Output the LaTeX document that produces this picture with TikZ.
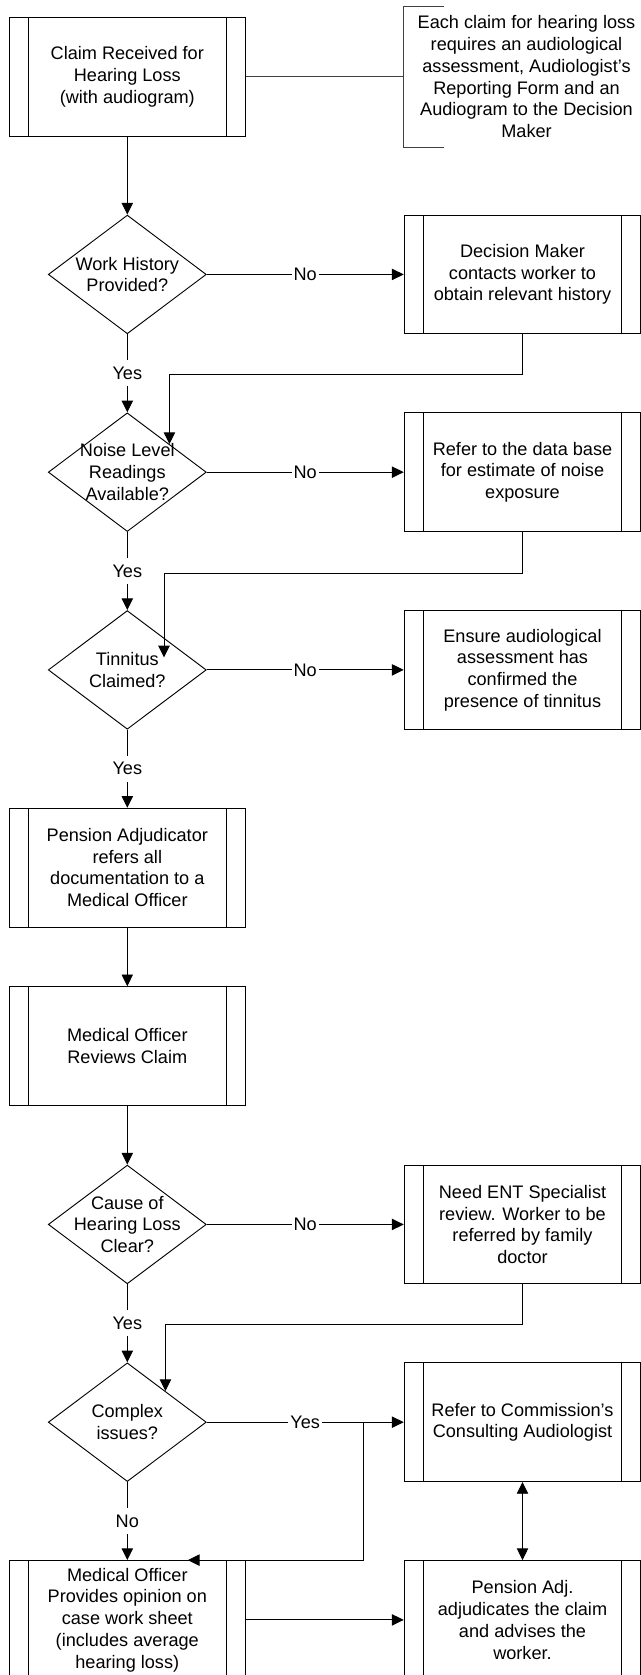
\documentclass[tikz,border=0pt]{standalone}
\usepackage{fontspec}
\setmainfont{Liberation Sans}
\usetikzlibrary{shapes.geometric,arrows.meta,positioning,calc}
\newcommand{\flowfont}{\fontsize{13.6pt}{16.3pt}\selectfont}

\begin{document}
\begin{tikzpicture}[x=0.75pt, y=-0.75pt, line width=0.7pt, node distance=148.3pt,
      procbox/.style={rectangle, draw=black, minimum width=177.5pt, minimum height=89pt, inner sep=2pt, align=center, font=\flowfont,
        path picture={\draw ([xshift=14.7pt]path picture bounding box.north west) -- ([xshift=14.7pt]path picture bounding box.south west)
          ([xshift=-14.7pt]path picture bounding box.north east) -- ([xshift=-14.7pt]path picture bounding box.south east);}},
      decision/.style={diamond, draw=black, aspect=1.33, minimum width=118.5pt, minimum height=89pt, inner xsep=-20pt, inner ysep=-12pt, align=center, font=\flowfont},
      lbl/.style={fill=white, inner xsep=1.5pt, inner ysep=5pt, font=\flowfont},
      pfeil/.style={-{Triangle[length=8.8pt,width=8.5pt]}},
      dpfeil/.style={{Triangle[length=8.8pt,width=8.5pt]}-{Triangle[length=8.8pt,width=8.5pt]}}]

\useasboundingbox (0,0) rectangle (640,1675);

\node[procbox] (claim) at (127.3,76.7) {Claim Received for\\Hearing Loss\\(with audiogram)};
\node[align=center, font=\flowfont, minimum width=183.75pt, minimum height=105pt, right of=claim, node distance=299.4pt] (note) {Each claim for hearing loss\\requires an audiological\\assessment, Audiologist’s\\Reporting Form and an\\Audiogram to the Decision\\Maker};
\node[decision, below of=claim] (d1) {Work History\\Provided?};
\node[decision, below of=d1] (d2) {Noise Level\\Readings\\Available?};
\node[decision, below of=d2] (d3) {Tinnitus\\Claimed?};
\node[procbox, below of=d3] (pa) {Pension Adjudicator\\refers all\\documentation to a\\Medical Officer};
\node[procbox, below of=pa, node distance=133.8pt] (mor) {Medical Officer\\Reviews Claim};
\node[decision, below of=mor, node distance=133.8pt] (d4) {Cause of\\Hearing Loss\\Clear?};
\node[decision, below of=d4] (d5) {Complex\\issues?};
\node[procbox, below of=d5] (mo) {Medical Officer\\Provides opinion on\\case work sheet\\(includes average\\hearing loss)};
\node[procbox, right of=d1, node distance=296.4pt] (dm) {Decision Maker\\contacts worker to\\obtain relevant history};
\node[procbox, right of=d2, node distance=296.4pt] (db) {Refer to the data base\\for estimate of noise\\exposure};
\node[procbox, right of=d3, node distance=296.4pt] (tin) {Ensure audiological\\assessment has\\confirmed the\\presence of tinnitus};
\node[procbox, right of=d4, node distance=296.4pt] (ent) {Need ENT Specialist\\review. Worker to be\\referred by family\\doctor};
\node[procbox, right of=d5, node distance=296.4pt] (cons) {Refer to Commission’s\\Consulting Audiologist};
\node[procbox, right of=mo, node distance=296.4pt] (adj) {Pension Adj.\\adjudicates the claim\\and advises the\\worker.};
\coordinate[right of=d5, node distance=177pt] (jn);
\coordinate (tip2) at ($(d2.north)!0.53!(d2.east)$);
\coordinate (tip3) at ($(d3.center)+(36.7,-12.5)$);
\coordinate (tip5) at ($(d5.north)!0.48!(d5.east)$);
\coordinate (mtip) at ($(mo.north)+(60.5,0)$);

\draw[black!75] (claim) -- (note);
\draw[black!75] ([xshift=30pt]note.north west) -- (note.north west) -- (note.south west) -- ([xshift=30pt]note.south west);
\draw[pfeil] (claim) -- (d1);
\draw[pfeil] (d1) -- node[lbl] {No} (dm);
\draw[pfeil] (d1) -- node[lbl] {Yes} (d2);
\draw[pfeil] (dm.south) -- ++(0,40.5) -| (tip2);
\draw[pfeil] (d2) -- node[lbl] {No} (db);
\draw[pfeil] (d2) -- node[lbl] {Yes} (d3);
\draw[pfeil] (db.south) -- ++(0,41) -| (tip3);
\draw[pfeil] (d3) -- node[lbl] {No} (tin);
\draw[pfeil] (d3) -- node[lbl] {Yes} (pa);
\draw[pfeil] (pa) -- (mor);
\draw[pfeil] (mor) -- (d4);
\draw[pfeil] (d4) -- node[lbl] {No} (ent);
\draw[pfeil] (d4) -- node[lbl] {Yes} (d5);
\draw[pfeil] (ent.south) -- ++(0,40.2) -| (tip5);
\draw[pfeil] (d5) -- node[lbl] {Yes} (cons);
\draw[pfeil] (d5) -- node[lbl] {No} (mo);
\draw[pfeil] (jn) |- (mtip);
\draw[dpfeil] (cons) -- (adj);
\draw[pfeil] (mo) -- (adj);

\end{tikzpicture}
\end{document}
